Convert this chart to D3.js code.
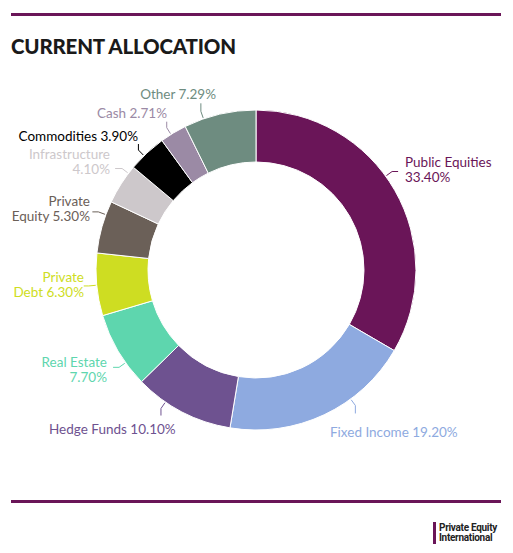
<!DOCTYPE html>
<html>
<head>
<meta charset="utf-8">
<script src="https://cdn.jsdelivr.net/npm/d3@7"></script>
<style>
    body { margin: 0; background: #fff; }
    svg { display: block; }
</style>
</head>
<body>
<div id="chart"></div>
<script>
// Allocation data, clockwise from 12 o'clock
const categories = ['Public Equities', 'Fixed Income', 'Hedge Funds', 'Real Estate', 'Private Debt',
    'Private Equity', 'Infrastructure', 'Commodities', 'Cash', 'Other'];
const shares = [33.40, 19.20, 10.10, 7.70, 6.30, 5.30, 4.10, 3.90, 2.71, 7.29];
const sliceColors = ['#6a1558', '#8eaae0', '#6e5290', '#5ed6ae', '#cedd22',
    '#6b6058', '#cdc8cb', '#000000', '#9b8aa5', '#6e8c80'];

// Label placement: anchor, x, first baseline, words on first line (0 = one line),
// where the leader leaves the slice (0..1 along it) and which way it bends
const labelLayout = [
    { anchor: 'start', x: 405, y: 167, split: 2, at: 0.45, bend: [6, 0] },
    { anchor: 'start', x: 330, y: 437, split: 0, at: 0.34, bend: [0, 8] },
    { anchor: 'start', x: 49,  y: 434, split: 0, at: 0.69, bend: [0, 7] },
    { anchor: 'end',   x: 107, y: 367, split: 2, at: 0.32, bend: [-6, 0] },
    { anchor: 'end',   x: 84,  y: 282, split: 1, at: 0.49, bend: [-5, 0] },
    { anchor: 'end',   x: 90,  y: 206, split: 1, at: 0.74, bend: [-6, 0] },
    { anchor: 'end',   x: 110, y: 159, split: 1, at: 0.81, bend: [-7, 0] },
    { anchor: 'end',   x: 138, y: 141, split: 0, at: 0.40, bend: [0, -6] },
    { anchor: 'end',   x: 167, y: 118, split: 0, at: 0.40, bend: [0, -6] },
    { anchor: 'end',   x: 216, y: 99,  split: 0, at: 0.27, bend: [0, -8] }
];

const width = 513, height = 553;
const cx = 256, cy = 270, outerR = 160, innerR = 108;
const fmt = d3.format('.2f');
const labelFont = "Lato, 'Open Sans', sans-serif";

const svg = d3.select('#chart').append('svg')
    .attr('width', width)
    .attr('height', height);

// Top and bottom rules
svg.append('rect').attr('x', 11).attr('y', 13).attr('width', 490).attr('height', 3).attr('fill', '#6a1558');
svg.append('rect').attr('x', 11).attr('y', 500).attr('width', 490).attr('height', 3).attr('fill', '#6a1558');

svg.append('text')
    .attr('x', 11).attr('y', 54)
    .attr('font-family', "Lato, 'Open Sans', sans-serif")
    .attr('font-weight', 900)
    .attr('font-size', 20.5)
    .attr('letter-spacing', -0.2)
    .attr('fill', '#1a1a1a')
    .text('CURRENT ALLOCATION');

// Donut
const pie = d3.pie().sort(null).value(d => d.value);
const data = categories.map((c, i) => ({ name: c, value: shares[i], color: sliceColors[i], layout: labelLayout[i] }));
const arcs = pie(data);
const arc = d3.arc().innerRadius(innerR).outerRadius(outerR);

const g = svg.append('g').attr('transform', `translate(${cx},${cy})`);

g.selectAll('path.slice')
    .data(arcs)
    .enter().append('path')
    .attr('class', 'slice')
    .attr('d', arc)
    .attr('fill', d => d.data.color)
    .attr('stroke', '#fff')
    .attr('stroke-width', 1);

// Leader lines
function polar(angle, r) {
    return [Math.sin(angle) * r, -Math.cos(angle) * r];
}

g.selectAll('polyline.leader')
    .data(arcs)
    .enter().append('polyline')
    .attr('class', 'leader')
    .attr('fill', 'none')
    .attr('stroke', d => d.data.color)
    .attr('stroke-width', 1)
    .attr('points', d => {
        const a = d.startAngle + (d.endAngle - d.startAngle) * d.data.layout.at;
        const p0 = polar(a, outerR + 1);
        const p1 = polar(a, outerR + 8);
        const p2 = [p1[0] + d.data.layout.bend[0], p1[1] + d.data.layout.bend[1]];
        return [p0, p1, p2].map(p => p.join(',')).join(' ');
    });

// Labels: one text per line
arcs.forEach(d => {
    const words = (d.data.name + ' ' + fmt(d.data.value) + '%').split(' ');
    const L = d.data.layout;
    const lines = L.split ? [words.slice(0, L.split).join(' '), words.slice(L.split).join(' ')] : [words.join(' ')];
    lines.forEach((line, i) => {
        svg.append('text')
            .attr('class', 'label')
            .attr('x', L.x)
            .attr('y', L.y + i * 15)
            .attr('text-anchor', L.anchor)
            .attr('font-family', labelFont)
            .attr('font-size', 13.5)
            .attr('fill', d.data.color)
            .text(line);
    });
});

// Publisher mark
svg.append('rect').attr('x', 433).attr('y', 522).attr('width', 3).attr('height', 22).attr('fill', '#6a1558');
const logo = svg.append('text')
    .attr('font-family', "Roboto, 'Open Sans', sans-serif")
    .attr('font-weight', 700)
    .attr('font-size', 10)
    .attr('letter-spacing', -0.3)
    .attr('fill', '#222');
logo.append('tspan').attr('x', 439).attr('y', 531).text('Private Equity');
logo.append('tspan').attr('x', 439).attr('y', 541).text('International');
</script>
</body>
</html>
